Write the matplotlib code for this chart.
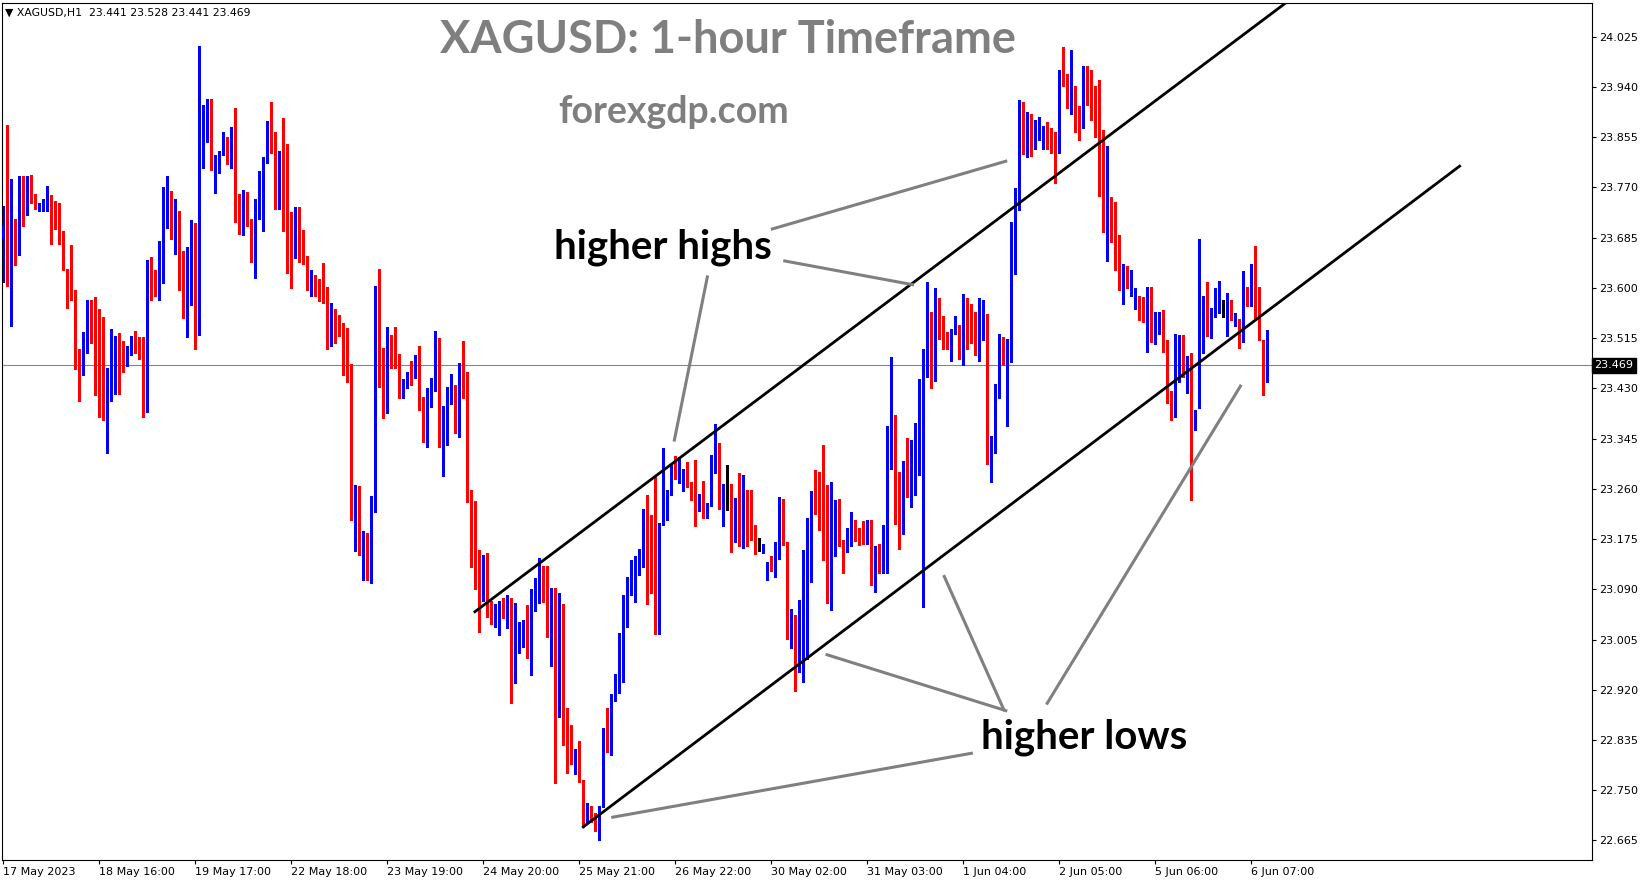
import numpy as np
import matplotlib.pyplot as plt
from matplotlib.transforms import blended_transform_factory

# XAGUSD H1 candles (17 May - 6 Jun 2023)
opens = [23.683, 23.707, 23.615, 23.708, 23.659, 23.784, 23.756, 23.774, 23.754, 23.735,
         23.736, 23.746, 23.755, 23.728, 23.727, 23.690, 23.632, 23.594, 23.592, 23.485,
         23.458, 23.500, 23.537, 23.519, 23.472, 23.473, 23.408, 23.452, 23.463, 23.491,
         23.491, 23.470, 23.488, 23.514, 23.497, 23.480, 23.413, 23.644, 23.611, 23.597,
         23.646, 23.706, 23.764, 23.692, 23.729, 23.662, 23.575, 23.626, 23.673, 23.529,
         23.847, 23.877, 23.920, 23.805, 23.795, 23.827, 23.843, 23.834, 23.874, 23.754,
         23.722, 23.751, 23.710, 23.648, 23.729, 23.739, 23.817, 23.861, 23.847, 23.750,
         23.824, 23.726, 23.706, 23.653, 23.707, 23.670, 23.648, 23.595, 23.619, 23.610,
         23.585, 23.575, 23.509, 23.564, 23.550, 23.536, 23.483, 23.471, 23.215, 23.243,
         23.150, 23.153, 23.142, 23.221, 23.563, 23.499, 23.406, 23.505, 23.500, 23.488,
         23.419, 23.441, 23.458, 23.453, 23.473, 23.395, 23.343, 23.409, 23.438, 23.505,
         23.343, 23.352, 23.424, 23.436, 23.404, 23.471, 23.437, 23.241, 23.181, 23.147,
         23.089, 23.090, 23.051, 23.027, 23.038, 23.072, 23.062, 23.076, 22.951, 23.006,
         23.011, 23.038, 22.986, 23.067, 23.084, 23.099, 23.097, 23.013, 23.049, 22.877,
         22.981, 22.852, 22.833, 22.800, 22.801, 22.768, 22.697, 22.713, 22.710, 22.698,
         22.722, 22.850, 22.812, 22.907, 22.923, 22.959, 23.067, 23.101, 23.117, 23.143,
         23.148, 23.156, 23.126, 23.101, 23.096, 23.199, 23.229, 23.255, 23.288, 23.277,
         23.258, 23.282, 23.271, 23.239, 23.236, 23.250, 23.217, 23.231, 23.295, 23.337,
         23.241, 23.265, 23.266, 23.199, 23.229, 23.219, 23.226, 23.212, 23.195, 23.160,
         23.155, 23.105, 23.139, 23.129, 23.141, 23.227, 23.165, 23.013, 23.046, 22.967,
         23.072, 23.138, 23.171, 23.257, 23.243, 23.233, 23.170, 23.078, 23.193, 23.210,
         23.167, 23.157, 23.167, 23.197, 23.184, 23.187, 23.181, 23.190, 23.094, 23.153,
         23.133, 23.170, 23.353, 23.378, 23.203, 23.186, 23.282, 23.247, 23.294, 23.300,
         23.226, 23.460, 23.548, 23.480, 23.561, 23.533, 23.513, 23.482, 23.530, 23.532,
         23.504, 23.576, 23.533, 23.512, 23.489, 23.511, 23.555, 23.327, 23.340, 23.434,
         23.496, 23.490, 23.506, 23.666, 23.738, 23.894, 23.842, 23.889, 23.835, 23.866,
         23.852, 23.869, 23.864, 23.839, 23.839, 23.959, 23.958, 23.911, 23.933, 23.894,
         23.876, 23.972, 23.928, 23.903, 23.872, 23.867, 23.738, 23.746, 23.746, 23.663,
         23.598, 23.633, 23.601, 23.567, 23.578, 23.566, 23.546, 23.591, 23.522, 23.547,
         23.553, 23.512, 23.416, 23.388, 23.464, 23.502, 23.470, 23.475, 23.365, 23.396,
         23.535, 23.557, 23.539, 23.553, 23.557, 23.558, 23.556, 23.571, 23.547, 23.547,
         23.529, 23.588, 23.579, 23.637, 23.546, 23.512, 23.441]

highs = [23.739, 23.876, 23.784, 23.717, 23.789, 23.789, 23.789, 23.791, 23.758, 23.744,
         23.751, 23.773, 23.757, 23.747, 23.743, 23.696, 23.632, 23.672, 23.597, 23.497,
         23.526, 23.580, 23.580, 23.585, 23.564, 23.550, 23.464, 23.531, 23.519, 23.523,
         23.510, 23.502, 23.519, 23.527, 23.517, 23.517, 23.648, 23.652, 23.630, 23.679,
         23.771, 23.789, 23.764, 23.751, 23.730, 23.663, 23.670, 23.715, 23.709, 24.010,
         23.909, 23.920, 23.920, 23.824, 23.831, 23.864, 23.855, 23.872, 23.905, 23.758,
         23.766, 23.763, 23.716, 23.751, 23.798, 23.821, 23.882, 23.915, 23.864, 23.831,
         23.887, 23.843, 23.728, 23.737, 23.737, 23.698, 23.654, 23.630, 23.622, 23.615,
         23.642, 23.602, 23.575, 23.564, 23.554, 23.541, 23.532, 23.471, 23.267, 23.265,
         23.189, 23.185, 23.248, 23.604, 23.632, 23.499, 23.534, 23.521, 23.534, 23.488,
         23.446, 23.458, 23.476, 23.486, 23.502, 23.415, 23.431, 23.448, 23.527, 23.515,
         23.400, 23.432, 23.454, 23.436, 23.473, 23.510, 23.458, 23.258, 23.240, 23.157,
         23.148, 23.151, 23.070, 23.065, 23.071, 23.076, 23.080, 23.076, 23.067, 23.035,
         23.038, 23.064, 23.090, 23.109, 23.143, 23.130, 23.130, 23.092, 23.092, 23.084,
         23.065, 22.890, 22.861, 22.819, 22.833, 22.768, 22.728, 22.723, 22.711, 22.723,
         22.855, 22.890, 22.913, 22.947, 23.016, 23.080, 23.111, 23.139, 23.146, 23.158,
         23.226, 23.250, 23.216, 23.280, 23.202, 23.329, 23.258, 23.300, 23.315, 23.314,
         23.293, 23.305, 23.271, 23.309, 23.251, 23.273, 23.236, 23.317, 23.370, 23.337,
         23.268, 23.300, 23.268, 23.244, 23.287, 23.283, 23.258, 23.258, 23.199, 23.177,
         23.167, 23.136, 23.146, 23.170, 23.246, 23.243, 23.170, 23.057, 23.046, 23.072,
         23.156, 23.211, 23.257, 23.292, 23.289, 23.334, 23.266, 23.271, 23.241, 23.243,
         23.173, 23.193, 23.220, 23.207, 23.193, 23.206, 23.207, 23.208, 23.164, 23.166,
         23.198, 23.367, 23.483, 23.385, 23.289, 23.307, 23.346, 23.343, 23.372, 23.446,
         23.496, 23.610, 23.560, 23.600, 23.583, 23.553, 23.525, 23.531, 23.553, 23.538,
         23.589, 23.583, 23.572, 23.560, 23.583, 23.579, 23.555, 23.349, 23.437, 23.522,
         23.517, 23.513, 23.711, 23.769, 23.918, 23.915, 23.897, 23.894, 23.884, 23.889,
         23.874, 23.880, 23.871, 23.863, 23.968, 24.008, 23.962, 24.002, 23.941, 23.908,
         23.975, 23.975, 23.969, 23.942, 23.952, 23.867, 23.840, 23.754, 23.746, 23.690,
         23.640, 23.637, 23.630, 23.599, 23.587, 23.585, 23.602, 23.602, 23.560, 23.559,
         23.563, 23.512, 23.425, 23.522, 23.520, 23.520, 23.484, 23.489, 23.394, 23.682,
         23.586, 23.610, 23.566, 23.599, 23.612, 23.580, 23.591, 23.579, 23.558, 23.547,
         23.629, 23.602, 23.641, 23.671, 23.602, 23.512, 23.528]

lows = [23.610, 23.604, 23.535, 23.639, 23.656, 23.705, 23.724, 23.743, 23.733, 23.730,
        23.730, 23.730, 23.675, 23.699, 23.674, 23.630, 23.566, 23.580, 23.463, 23.409,
        23.453, 23.490, 23.507, 23.419, 23.381, 23.377, 23.320, 23.408, 23.421, 23.420,
        23.458, 23.467, 23.487, 23.490, 23.479, 23.381, 23.390, 23.580, 23.586, 23.580,
        23.609, 23.702, 23.683, 23.658, 23.597, 23.549, 23.517, 23.571, 23.497, 23.521,
        23.803, 23.847, 23.800, 23.760, 23.794, 23.824, 23.810, 23.802, 23.712, 23.691,
        23.690, 23.704, 23.643, 23.616, 23.716, 23.697, 23.812, 23.829, 23.734, 23.734,
        23.696, 23.626, 23.600, 23.651, 23.644, 23.640, 23.597, 23.587, 23.587, 23.578,
        23.574, 23.497, 23.501, 23.507, 23.518, 23.453, 23.441, 23.207, 23.155, 23.148,
        23.105, 23.105, 23.101, 23.221, 23.432, 23.380, 23.388, 23.464, 23.465, 23.414,
        23.414, 23.431, 23.435, 23.448, 23.394, 23.340, 23.330, 23.399, 23.426, 23.331,
        23.281, 23.334, 23.404, 23.354, 23.348, 23.414, 23.237, 23.127, 23.091, 23.018,
        23.070, 23.043, 23.032, 23.026, 23.013, 23.042, 23.025, 22.898, 22.932, 22.983,
        22.993, 22.973, 22.945, 23.054, 23.066, 23.068, 23.010, 22.961, 22.762, 22.874,
        22.826, 22.780, 22.795, 22.778, 22.764, 22.688, 22.696, 22.697, 22.681, 22.666,
        22.722, 22.815, 22.810, 22.901, 22.915, 22.934, 23.027, 23.081, 23.069, 23.114,
        23.127, 23.065, 23.084, 23.014, 23.014, 23.199, 23.207, 23.250, 23.277, 23.270,
        23.257, 23.263, 23.241, 23.197, 23.222, 23.211, 23.211, 23.231, 23.287, 23.226,
        23.197, 23.224, 23.153, 23.170, 23.163, 23.160, 23.163, 23.173, 23.150, 23.155,
        23.151, 23.105, 23.121, 23.111, 23.141, 23.165, 23.006, 22.991, 22.918, 22.950,
        22.933, 22.972, 23.103, 23.217, 23.191, 23.140, 23.066, 23.055, 23.146, 23.164,
        23.117, 23.153, 23.163, 23.171, 23.165, 23.167, 23.167, 23.098, 23.086, 23.117,
        23.117, 23.117, 23.294, 23.200, 23.159, 23.183, 23.247, 23.230, 23.249, 23.283,
        23.060, 23.449, 23.430, 23.442, 23.514, 23.496, 23.496, 23.476, 23.522, 23.479,
        23.470, 23.496, 23.506, 23.486, 23.476, 23.511, 23.302, 23.271, 23.320, 23.413,
        23.470, 23.366, 23.474, 23.623, 23.732, 23.827, 23.821, 23.823, 23.835, 23.850,
        23.835, 23.835, 23.828, 23.777, 23.828, 23.941, 23.904, 23.894, 23.863, 23.850,
        23.870, 23.910, 23.884, 23.856, 23.756, 23.695, 23.645, 23.678, 23.630, 23.597,
        23.573, 23.599, 23.587, 23.564, 23.546, 23.543, 23.491, 23.509, 23.505, 23.522,
        23.491, 23.405, 23.377, 23.381, 23.440, 23.449, 23.422, 23.241, 23.360, 23.396,
        23.489, 23.518, 23.515, 23.550, 23.557, 23.551, 23.519, 23.546, 23.535, 23.498,
        23.509, 23.570, 23.570, 23.546, 23.512, 23.419, 23.441]

closes = [23.707, 23.615, 23.708, 23.661, 23.784, 23.756, 23.774, 23.761, 23.746, 23.740,
          23.747, 23.757, 23.728, 23.726, 23.685, 23.630, 23.592, 23.590, 23.482, 23.460,
          23.500, 23.541, 23.517, 23.470, 23.469, 23.409, 23.448, 23.466, 23.491, 23.489,
          23.479, 23.483, 23.510, 23.492, 23.482, 23.413, 23.648, 23.609, 23.599, 23.647,
          23.707, 23.764, 23.692, 23.729, 23.662, 23.577, 23.628, 23.670, 23.532, 23.847,
          23.879, 23.918, 23.803, 23.809, 23.830, 23.840, 23.834, 23.867, 23.756, 23.724,
          23.752, 23.712, 23.655, 23.737, 23.742, 23.819, 23.862, 23.847, 23.750, 23.824,
          23.722, 23.698, 23.653, 23.707, 23.670, 23.644, 23.604, 23.613, 23.603, 23.585,
          23.575, 23.507, 23.564, 23.550, 23.534, 23.480, 23.471, 23.211, 23.243, 23.150,
          23.155, 23.142, 23.224, 23.561, 23.499, 23.412, 23.505, 23.497, 23.482, 23.426,
          23.436, 23.454, 23.453, 23.476, 23.395, 23.341, 23.410, 23.439, 23.505, 23.347,
          23.353, 23.424, 23.436, 23.402, 23.470, 23.437, 23.243, 23.177, 23.144, 23.089,
          23.090, 23.049, 23.035, 23.045, 23.069, 23.059, 23.077, 22.951, 23.006, 23.013,
          23.038, 22.988, 23.072, 23.084, 23.099, 23.094, 23.013, 23.046, 22.878, 22.984,
          22.826, 22.832, 22.797, 22.803, 22.767, 22.705, 22.715, 22.705, 22.700, 22.718,
          22.852, 22.815, 22.908, 22.924, 22.960, 23.072, 23.107, 23.117, 23.145, 23.148,
          23.158, 23.111, 23.107, 23.094, 23.202, 23.231, 23.255, 23.292, 23.286, 23.310,
          23.278, 23.273, 23.243, 23.232, 23.248, 23.221, 23.231, 23.299, 23.337, 23.241,
          23.268, 23.265, 23.197, 23.231, 23.216, 23.224, 23.210, 23.194, 23.158, 23.160,
          23.163, 23.136, 23.128, 23.143, 23.226, 23.165, 23.013, 23.045, 22.960, 23.065,
          23.138, 23.173, 23.257, 23.247, 23.230, 23.167, 23.083, 23.196, 23.210, 23.170,
          23.158, 23.170, 23.206, 23.191, 23.181, 23.181, 23.187, 23.098, 23.153, 23.133,
          23.170, 23.353, 23.382, 23.203, 23.186, 23.282, 23.247, 23.297, 23.304, 23.327,
          23.457, 23.548, 23.479, 23.560, 23.533, 23.519, 23.506, 23.528, 23.537, 23.504,
          23.577, 23.534, 23.512, 23.489, 23.511, 23.556, 23.327, 23.342, 23.437, 23.497,
          23.492, 23.509, 23.650, 23.750, 23.894, 23.849, 23.889, 23.831, 23.872, 23.871,
          23.863, 23.860, 23.833, 23.833, 23.963, 23.958, 23.914, 23.933, 23.894, 23.879,
          23.960, 23.927, 23.900, 23.871, 23.866, 23.735, 23.746, 23.743, 23.659, 23.597,
          23.632, 23.609, 23.608, 23.574, 23.564, 23.546, 23.593, 23.524, 23.553, 23.554,
          23.512, 23.416, 23.388, 23.464, 23.502, 23.467, 23.480, 23.368, 23.388, 23.537,
          23.558, 23.537, 23.555, 23.556, 23.566, 23.558, 23.564, 23.547, 23.550, 23.529,
          23.584, 23.580, 23.635, 23.546, 23.512, 23.443, 23.469]

date_labels = ['17 May 2023', '18 May 16:00', '19 May 17:00', '22 May 18:00', '23 May 19:00',
               '24 May 20:00', '25 May 21:00', '26 May 22:00', '30 May 02:00', '31 May 03:00',
               '1 Jun 04:00', '2 Jun 05:00', '5 Jun 06:00', '6 Jun 07:00']
bars_per_label = 24

price_ticks = [22.665, 22.750, 22.835, 22.920, 23.005, 23.090, 23.175, 23.260, 23.345,
               23.430, 23.515, 23.600, 23.685, 23.770, 23.855, 23.940, 24.025]
last_price = 23.469

# channel lines (bar index, price)
upper_channel = ([117.9, 320.6], [23.052, 24.082])
lower_channel = ([145.0, 364.1], [22.688, 23.806])

# gray pointer lines (bar index, price)
pointers = [
    ([191.9, 251.0], [23.699, 23.815]),
    ([195.0, 227.7], [23.646, 23.605]),
    ([176.1, 167.7], [23.621, 23.340]),
    ([242.4, 152.0], [22.813, 22.704]),
    ([251.0, 205.6], [22.884, 22.980]),
    ([250.3, 235.1], [22.884, 23.114]),
    ([260.8, 309.5], [22.895, 23.436]),
]

W, H = 1649, 884
fig = plt.figure(figsize=(W / 100, H / 100), dpi=100)
ax = fig.add_axes([2 / W, 1 - 860 / H, 1590 / W, 857 / H])

x = np.arange(len(closes))
o = np.array(opens)
c = np.array(closes)
colors = np.where(c > o, '#0000ff', np.where(c < o, '#ff0000', '#000000'))

ax.axhline(last_price, color='#778899', lw=0.8, zorder=1)

ax.vlines(x, lows, highs, colors=colors, lw=0.8, antialiased=False, zorder=2)
bottoms = np.minimum(o, c)
heights = np.maximum(np.abs(c - o), 0.0017)
ax.bar(x, heights, bottom=bottoms, width=0.8, color=colors, linewidth=0,
       antialiased=False, zorder=3)

ax.plot(*upper_channel, color='black', lw=2.0, zorder=4)
ax.plot(*lower_channel, color='black', lw=2.0, zorder=4)
for px, py in pointers:
    ax.plot(px, py, color='#808080', lw=2.2, solid_capstyle='butt', zorder=4)

ax.text(164.8, 23.649, 'higher highs', fontsize=29, fontweight='bold', family='Lato',
        ha='center', va='baseline', zorder=5)
ax.text(270.3, 22.820, 'higher lows', fontsize=29, fontweight='bold', family='Lato',
        ha='center', va='baseline', zorder=5)
ax.text(181.2, 23.998, 'XAGUSD: 1-hour Timeframe', fontsize=32.5, fontweight='bold',
        family='Lato', color='#7f7f7f', ha='center', va='baseline', zorder=5)
ax.text(167.7, 23.879, 'forexgdp.com', fontsize=27, fontweight='bold', family='Lato',
        color='#7f7f7f', ha='center', va='baseline', zorder=5)

ax.text(0.002, 0.989, '\u25bc XAGUSD,H1  23.441 23.528 23.441 23.469', transform=ax.transAxes,
        fontsize=7.8, ha='left', va='center')

ax.set_xlim(-0.33, 397.2)
ax.set_ylim(22.632, 24.082)

ax.yaxis.tick_right()
ax.set_yticks(price_ticks)
ax.set_yticklabels(['%.3f' % p for p in price_ticks])
ax.set_xticks([k * bars_per_label for k in range(len(date_labels))])
ax.set_xticklabels(date_labels, ha='left')
ax.tick_params(axis='both', direction='out', length=3, width=0.8, labelsize=8, pad=2)

trans = blended_transform_factory(ax.transAxes, ax.transData)
ax.text(1.0015, last_price, '%.3f' % last_price, transform=trans, fontsize=8,
        color='white', ha='left', va='center',
        bbox=dict(boxstyle='square,pad=0.2', fc='black', ec='black'))

for s in ax.spines.values():
    s.set_linewidth(0.8)

fig.savefig('out.png', dpi=100)
